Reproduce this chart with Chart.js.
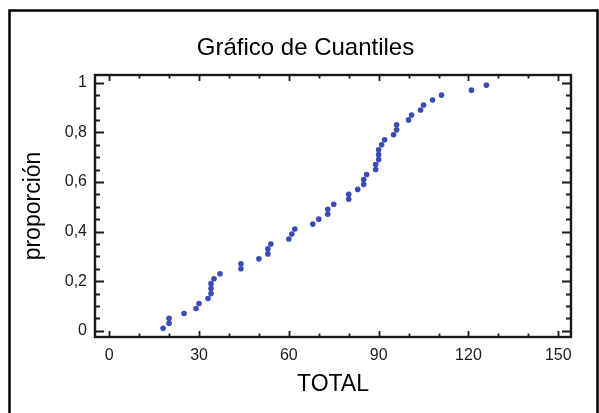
<!DOCTYPE html>
<html>
<head>
<meta charset="utf-8">
<script src="https://cdn.jsdelivr.net/npm/chart.js@4.4.1/dist/chart.umd.min.js"></script>
<style>
  html, body { margin: 0; padding: 0; background: #fff; }
  #wrap { position: relative; width: 599px; height: 413px; }
</style>
</head>
<body>
<div id="wrap"><canvas id="c" width="599" height="413"></canvas></div>
<script>
// ---- data ----
const totalValues = [18, 20, 20, 25, 29, 30, 33, 34, 34, 34, 35, 37, 44, 44, 50, 53, 53, 54, 60, 61,
                     62, 68, 70, 73, 73, 75, 80, 80, 83, 85, 85, 86, 89, 89, 90, 90, 90, 91, 92, 95,
                     96, 96, 100, 101, 104, 105, 108, 111, 121, 126];
const proportionValues = [0.01, 0.03, 0.05, 0.07, 0.09, 0.11, 0.13, 0.15, 0.17, 0.19,
                          0.21, 0.23, 0.25, 0.27, 0.29, 0.31, 0.33, 0.35, 0.37, 0.39,
                          0.41, 0.43, 0.45, 0.47, 0.49, 0.51, 0.53, 0.55, 0.57, 0.59,
                          0.61, 0.63, 0.65, 0.67, 0.69, 0.71, 0.73, 0.75, 0.77, 0.79,
                          0.81, 0.83, 0.85, 0.87, 0.89, 0.91, 0.93, 0.95, 0.97, 0.99];
const xTickValues = [0, 30, 60, 90, 120, 150];
const yTickValues = [0, 0.2, 0.4, 0.6, 0.8, 1];
const yTickLabels = ['0', '0,2', '0,4', '0,6', '0,8', '1'];
const chartTitle = 'Gráfico de Cuantiles';
const xTitle = 'TOTAL';
const yTitle = 'proporción';

const FONT = "'Liberation Sans', Arial, Helvetica, sans-serif";
const INK = '#1a1a1a';

const points = totalValues.map((x, i) => ({ x: x, y: proportionValues[i] }));

const framePlugin = {
  id: 'frame',
  beforeDraw(chart) {
    const ctx = chart.ctx;
    ctx.save();
    ctx.fillStyle = '#fff';
    ctx.fillRect(0, 0, chart.width, chart.height);
    ctx.strokeStyle = '#000';
    ctx.lineWidth = 2.5;
    ctx.beginPath();
    ctx.moveTo(9.5, 413);
    ctx.lineTo(9.5, 10.5);
    ctx.lineTo(597.5, 10.5);
    ctx.lineTo(597.5, 413);
    ctx.stroke();
    // chart title
    ctx.fillStyle = '#000';
    ctx.font = "24px " + FONT;
    ctx.textAlign = 'center';
    ctx.textBaseline = 'middle';
    ctx.fillText(chartTitle, 305.5, 48);
    ctx.restore();
  },
  afterDatasetsDraw(chart) {
    const ctx = chart.ctx;
    const a = chart.chartArea;
    const xs = chart.scales.x, ys = chart.scales.y;
    ctx.save();
    ctx.strokeStyle = INK;
    // inward tick marks
    ctx.lineWidth = 1.8;
    ctx.beginPath();
    for (let v = 0; v <= 150; v += 10) {
      const px = Math.round(xs.getPixelForValue(v)) + 0.5;
      const major = v % 30 === 0;
      const lb = major ? 6 : 3.5;
      ctx.moveTo(px, a.bottom); ctx.lineTo(px, a.bottom - lb);
      ctx.moveTo(px, a.top); ctx.lineTo(px, a.top + lb);
    }
    for (let k = 0; k <= 20; k++) {
      const v = k * 0.05;
      const py = Math.round(ys.getPixelForValue(v)) + 0.5;
      const major = k % 4 === 0;
      const ll = major ? 9 : 5;
      ctx.moveTo(a.left, py); ctx.lineTo(a.left + ll, py);
      ctx.moveTo(a.right, py); ctx.lineTo(a.right - ll, py);
    }
    ctx.stroke();
    // plot border
    ctx.lineWidth = 2.4;
    ctx.strokeRect(a.left, a.top, a.right - a.left, a.bottom - a.top);
    ctx.restore();
  }
};

new Chart(document.getElementById('c'), {
  type: 'scatter',
  data: {
    datasets: [{
      data: points,
      backgroundColor: '#3a4bb5',
      borderWidth: 0,
      pointRadius: 2.8,
      pointHoverRadius: 2.8
    }]
  },
  options: {
    responsive: false,
    animation: false,
    events: [],
    layout: { padding: { left: 0, right: 28, top: 75, bottom: 0 } },
    plugins: {
      legend: { display: false },
      tooltip: { enabled: false },
      title: { display: false }
    },
    scales: {
      x: {
        type: 'linear',
        min: -4.75,
        max: 154.25,
        afterBuildTicks(s) { s.ticks = xTickValues.map(v => ({ value: v })); },
        afterFit(s) { s.height = 76; },
        grid: { display: false, drawTicks: false },
        border: { display: false },
        ticks: {
          color: INK,
          padding: 9,
          maxRotation: 0,
          autoSkip: false,
          font: { family: FONT, size: 16 },
          callback: (v) => String(v)
        },
        title: {
          display: true,
          text: xTitle,
          color: '#000',
          font: { family: FONT, size: 23 },
          padding: { top: 0, bottom: 15 }
        }
      },
      y: {
        type: 'linear',
        min: -0.025,
        max: 1.031,
        afterBuildTicks(s) { s.ticks = yTickValues.map(v => ({ value: v })); },
        afterFit(s) { s.width = 95; },
        grid: { display: false, drawTicks: false },
        border: { display: false },
        ticks: {
          color: INK,
          padding: 8,
          autoSkip: false,
          font: { family: FONT, size: 16 },
          callback: (v) => {
            const i = yTickValues.findIndex(t => Math.abs(t - v) < 1e-9);
            return i >= 0 ? yTickLabels[i] : '';
          }
        },
        title: {
          display: true,
          text: yTitle,
          color: '#000',
          font: { family: FONT, size: 23 },
          padding: { top: 20, bottom: 0 }
        }
      }
    }
  },
  plugins: [framePlugin]
});
</script>
</body>
</html>
